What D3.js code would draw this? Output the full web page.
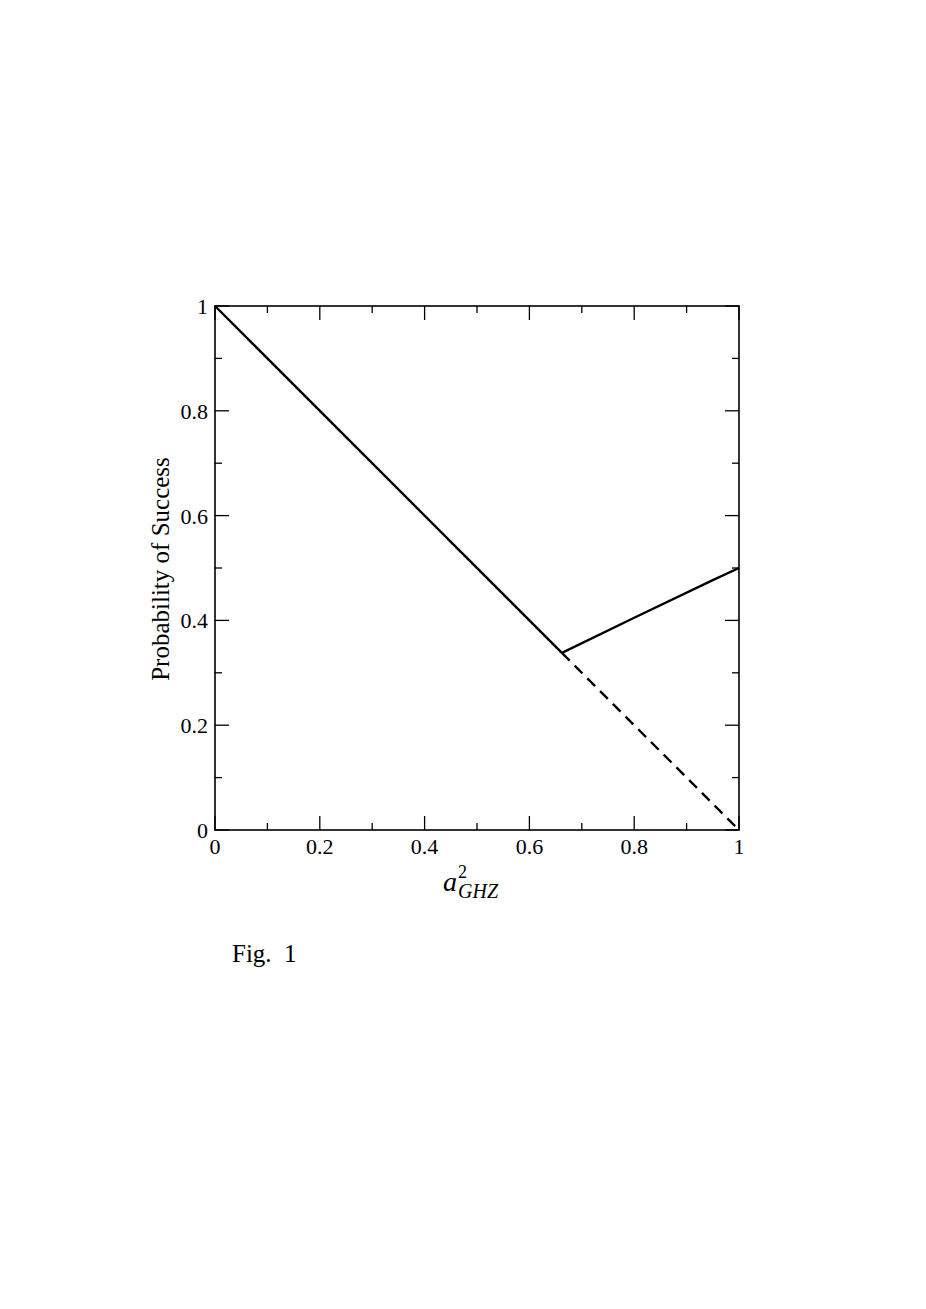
<!DOCTYPE html>
<html>
<head>
<meta charset="utf-8">
<script src="https://cdn.jsdelivr.net/npm/d3@7"></script>
<style>
  body { margin: 0; background: #fff; }
  text { font-family: "Liberation Serif", "DejaVu Serif", serif; fill: #000; }
</style>
</head>
<body>
<svg id="svg"></svg>
<script>
var width = 926;
var height = 1309;

// data
var solidX = [0, 0.662];
var solidY = [1, 0.338];
var upperX = [0.662, 0.8, 0.95, 1];
var upperY = [0.338, 0.405, 0.477, 0.5];
var dashX = [0.662, 1];
var dashY = [0.338, 0];
var majorTicks = [0, 0.2, 0.4, 0.6, 0.8, 1];
var minorTicks = [0.1, 0.3, 0.5, 0.7, 0.9];
var tickLabels = ["0", "0.2", "0.4", "0.6", "0.8", "1"];

var svg = d3.select("#svg")
    .attr("width", width)
    .attr("height", height);

var x = d3.scaleLinear().domain([0, 1]).range([215, 739]);
var y = d3.scaleLinear().domain([0, 1]).range([830, 306]);

var line = d3.line()
    .x(d => x(d[0]))
    .y(d => y(d[1]));

function pts(xs, ys) { return xs.map((v, i) => [v, ys[i]]); }

// ticks on all four sides, pointing inward
var g = svg.append("g").attr("stroke", "#000").attr("stroke-width", 1.3);
majorTicks.forEach(function (t) {
  g.append("line").attr("x1", x(t)).attr("x2", x(t)).attr("y1", y(0)).attr("y2", y(0) - 14);
  g.append("line").attr("x1", x(t)).attr("x2", x(t)).attr("y1", y(1)).attr("y2", y(1) + 14);
  g.append("line").attr("y1", y(t)).attr("y2", y(t)).attr("x1", x(0)).attr("x2", x(0) + 14);
  g.append("line").attr("y1", y(t)).attr("y2", y(t)).attr("x1", x(1)).attr("x2", x(1) - 14);
});
minorTicks.forEach(function (t) {
  g.append("line").attr("x1", x(t)).attr("x2", x(t)).attr("y1", y(0)).attr("y2", y(0) - 7);
  g.append("line").attr("x1", x(t)).attr("x2", x(t)).attr("y1", y(1)).attr("y2", y(1) + 7);
  g.append("line").attr("y1", y(t)).attr("y2", y(t)).attr("x1", x(0)).attr("x2", x(0) + 7);
  g.append("line").attr("y1", y(t)).attr("y2", y(t)).attr("x1", x(1)).attr("x2", x(1) - 7);
});

// frame
svg.append("rect")
    .attr("x", x(0)).attr("y", y(1))
    .attr("width", x(1) - x(0)).attr("height", y(0) - y(1))
    .attr("fill", "none").attr("stroke", "#000").attr("stroke-width", 1.6);

// curves
svg.append("path").datum(pts(solidX, solidY))
    .attr("d", line).attr("fill", "none").attr("stroke", "#000").attr("stroke-width", 2.4);
svg.append("path").datum(pts(upperX, upperY))
    .attr("d", line).attr("fill", "none").attr("stroke", "#000").attr("stroke-width", 2.4);
svg.append("path").datum(pts(dashX, dashY))
    .attr("d", line).attr("fill", "none").attr("stroke", "#000").attr("stroke-width", 2.4)
    .attr("stroke-dasharray", "11,7");

// tick labels
svg.selectAll(".xl").data(majorTicks).join("text")
    .attr("x", d => x(d)).attr("y", 854)
    .attr("text-anchor", "middle").attr("font-size", 22)
    .text((d, i) => tickLabels[i]);
svg.selectAll(".yl").data(majorTicks).join("text")
    .attr("x", 208).attr("y", d => y(d) + 8)
    .attr("text-anchor", "end").attr("font-size", 22)
    .text((d, i) => tickLabels[i]);

// axis titles
svg.append("text")
    .attr("transform", "translate(169,569) rotate(-90)")
    .attr("text-anchor", "middle").attr("font-size", 25)
    .text("Probability of Success");

var xt = svg.append("text").attr("x", 443).attr("y", 891).attr("font-size", 28).attr("font-style", "italic");
xt.append("tspan").text("a");
xt.append("tspan").attr("font-size", 18).attr("font-style", "normal").attr("dy", -13).attr("dx", 1).text("2");
xt.append("tspan").attr("font-size", 20).attr("x", 458).attr("dy", 20).text("GHZ");

svg.append("text")
    .attr("x", 232).attr("y", 962)
    .attr("font-size", 25)
    .text("Fig.\u00a0 1");
</script>
</body>
</html>
